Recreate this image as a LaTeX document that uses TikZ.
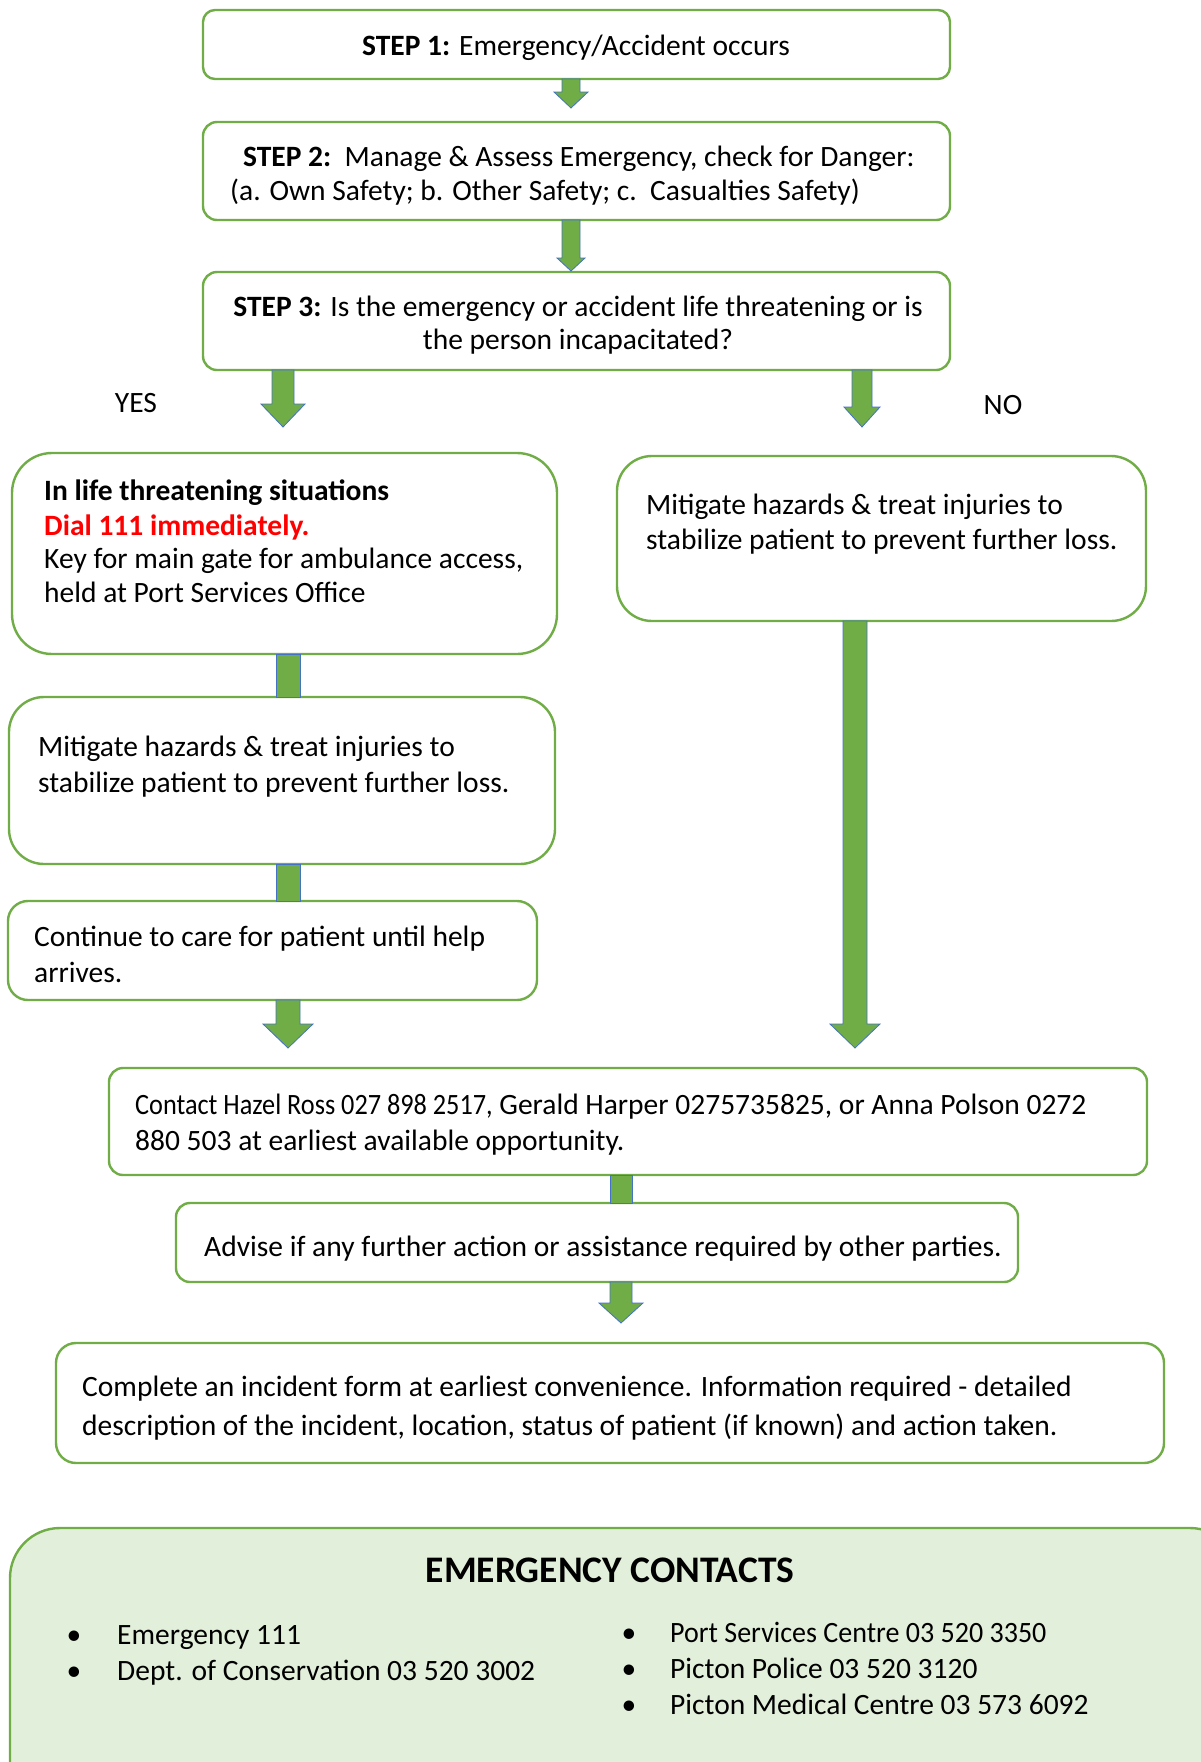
\documentclass[tikz,border=0pt]{standalone}
\usepackage{fontspec}
\usepackage{graphicx}
\setmainfont{Carlito}
\usetikzlibrary{calc}
\definecolor{gr}{HTML}{70AD47}
\definecolor{bl}{HTML}{4472C4}
\definecolor{lg}{HTML}{E2EFDA}
\definecolor{rd}{HTML}{FF0000}
\tikzset{
 box/.style={draw=gr, line width=2.4pt, fill=white, anchor=north west, inner sep=0pt, outer sep=0pt},
 txt/.style={anchor=mid west, inner sep=0pt, yshift=-8pt, font=\fontsize{29.5}{36}\selectfont},
 ctxt/.style={anchor=mid, inner sep=0pt, yshift=-8pt, font=\fontsize{29.5}{36}\selectfont},
 arr/.style={fill=gr, draw=bl, line width=0.8pt, line join=miter},
}
\newcommand\blk[5]{\draw[arr] let \p1=(#1), \p2=(#2) in (\x1-#3pt,\y1) -- (\x1+#3pt,\y1) -- (\x1+#3pt,\y2+#5pt) -- (\x1+#4pt,\y2+#5pt) -- (\x1,\y2) -- (\x1-#4pt,\y2+#5pt) -- (\x1-#3pt,\y2+#5pt) -- cycle;}
\newcommand\linkbar[3]{\draw[arr] let \p1=(#1), \p2=(#2) in (\x1-#3pt,\y1) rectangle (\x1+#3pt,\y2);}
\begin{document}
\begin{tikzpicture}[x=1pt,y=-1pt]
\useasboundingbox (0,0) rectangle (1201,1762);
% boxes
\node[box, rounded corners=12pt, minimum width=747pt, minimum height=69pt] (b1) at (203,10) {};
\node[box, rounded corners=14pt, minimum width=747pt, minimum height=98pt] (b2) at (203,122) {};
\node[box, rounded corners=14pt, minimum width=747pt, minimum height=98pt] (b3) at (203,272) {};
\node[box, rounded corners=40pt, minimum width=545pt, minimum height=201pt] (l1) at (12,453) {};
\node[box, rounded corners=35pt, minimum width=529pt, minimum height=165pt] (r1) at (617,456) {};
\node[box, rounded corners=35pt, minimum width=546pt, minimum height=167pt] (l2) at (9,697) {};
\node[box, rounded corners=20pt, minimum width=529pt, minimum height=99pt] (l3) at (8,901) {};
\node[box, rounded corners=14pt, minimum width=1038pt, minimum height=107pt] (c) at (109,1068) {};
\node[box, rounded corners=14pt, minimum width=842pt, minimum height=79pt] (a) at (176,1203) {};
\node[box, rounded corners=20pt, minimum width=1108pt, minimum height=120pt] (f) at (56,1343) {};
\node[box, fill=lg, rounded corners=50pt, minimum width=1230pt, minimum height=300pt] (ec) at (10,1528) {};
% arrow coordinates
\coordinate (t1) at (571,108);
\coordinate (t2) at (571,271);
\coordinate (ty) at (283,427);
\coordinate (tn) at (862,427);
\coordinate (tl) at (288,1048);
\coordinate (tr) at (855,1048);
\coordinate (ta) at (621,1323);
\coordinate (xl) at (288,0);
\coordinate (xc) at (621,0);
\blk{t1 |- b1.south}{t1}{9}{17}{16}
\blk{t2 |- b2.south}{t2}{9}{14}{13}
\blk{ty |- b3.south}{ty}{11}{22}{23}
\blk{tn |- b3.south}{tn}{10}{18}{20}
\blk{tl |- l3.south}{tl}{12}{25}{24}
\blk{tr |- r1.south}{tr}{12}{25}{24}
\blk{ta |- a.south}{ta}{11}{22}{20}
\linkbar{xl |- l1.south}{xl |- l2.north}{12}
\linkbar{xl |- l2.south}{xl |- l3.north}{12}
\linkbar{xc |- c.south}{xc |- a.north}{11}
% texts
\node[ctxt] (s1) at (576,45) {\textbf{STEP 1:} Emergency/Accident occurs};
\node[txt] (s2a) at (243,156) {\textbf{STEP 2:}\ \ Manage \& Assess Emergency, check for Danger:};
\node[txt] (s2b) at (230,190) {(a. Own Safety; b. Other Safety; c.\ \ Casualties Safety)};
\node[ctxt] (s3a) at (578,306) {\textbf{STEP 3:} Is the emergency or accident life threatening or is};
\node[ctxt] (s3b) at (578,339) {the person incapacitated?};
\node[ctxt] (yes) at (136,402) {YES};
\node[ctxt] (no) at (1003,404) {NO};
\node[txt] (l1a) at (44,490) {\textbf{In life threatening situations}};
\node[txt, text=rd] (l1b) at (44,525) {\textbf{Dial 111 immediately.}};
\node[txt] (l1c) at (44,558) {Key for main gate for ambulance access,};
\node[txt] (l1d) at (44,592) {held at Port Services Office};
\node[txt] (r1a) at (646,504) {Mitigate hazards \& treat injuries to};
\node[txt] (r1b) at (646,539) {stabilize patient to prevent further loss.};
\node[txt] (l2a) at (38,746) {Mitigate hazards \& treat injuries to};
\node[txt] (l2b) at (38,782) {stabilize patient to prevent further loss.};
\node[txt] (l3a) at (34,936) {Continue to care for patient until help};
\node[txt] (l3b) at (34,972) {arrives.};
\node[txt] (ca) at (135,1104) {\scalebox{0.89}[1]{Contact Hazel Ross 027 898 2517,} Gerald Harper 0275735825, or Anna Polson 0272};
\node[txt] (cb) at (135,1140) {880 503 at earliest available opportunity.};
\node[txt] (aa) at (204,1246) {Advise if any further action or assistance required by other parties.};
\node[txt] (fa) at (82,1386) {Complete an incident form at earliest convenience. Information required - detailed};
\node[txt] (fb) at (82,1425) {description of the incident, location, status of patient (if known) and action taken.};
\node[anchor=mid, inner sep=0pt, yshift=-9pt, font=\fontsize{37.5}{44}\selectfont\bfseries] (ect) at (610,1571) {EMERGENCY CONTACTS};
\foreach \n/\bx/\tx/\y/\t in {e1/74/117/1634/Emergency 111, e2/74/117/1670/Dept. of Conservation 03 520 3002, e3/629/670/1632/{\scalebox{0.95}[1]{Port Services Centre 03 520 3350}}, e4/629/670/1668/Picton Police 03 520 3120, e5/629/670/1704/Picton Medical Centre 03 573 6092}{
 \node[ctxt] (\n b) at (\bx,\y) {•};
 \node[txt] (\n) at (\tx,\y) {\t};
}
\end{tikzpicture}
\end{document}
